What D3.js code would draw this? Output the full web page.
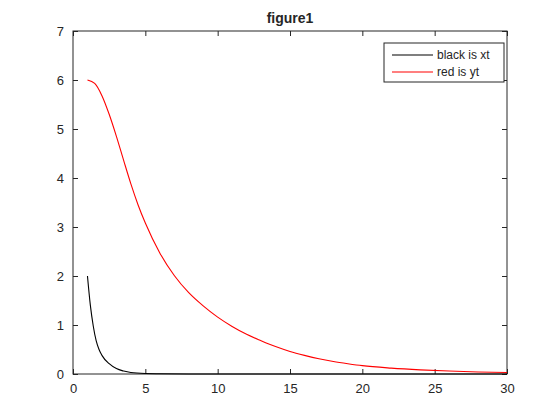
<!DOCTYPE html>
<html>
<head>
<meta charset="utf-8">
<script src="https://cdn.jsdelivr.net/npm/d3@7"></script>
<style>
  body { margin: 0; background: #fff; }
  text { font-family: "Liberation Sans", Arial, sans-serif; fill: #262626; }
</style>
</head>
<body>
<div id="chart"></div>
<script>
// values
var xt_x = [1, 1.2, 1.4, 1.6, 1.8, 2, 2.5, 3, 3.5, 4, 5, 6, 8, 10, 15, 20, 25, 30];
var xt_y = [2.0, 1.40, 0.98, 0.68, 0.50, 0.38, 0.21, 0.11, 0.06, 0.03, 0.01, 0.005, 0.001, 0, 0, 0, 0, 0];

var yt_x = [1, 1.5, 2, 2.5, 3, 3.5, 4, 4.5, 5, 6, 7, 8, 9, 10, 11, 12, 13, 14, 15, 16, 17, 18, 19, 20, 22, 24, 26, 28, 30];
var yt_y = [6.0, 5.93, 5.68, 5.30, 4.85, 4.36, 3.88, 3.45, 3.08, 2.47, 2.01, 1.66, 1.39, 1.16, 0.97, 0.81, 0.68, 0.56, 0.46, 0.38, 0.31, 0.255, 0.21, 0.17, 0.12, 0.085, 0.06, 0.042, 0.03];

var x_ticks = [0, 5, 10, 15, 20, 25, 30];
var y_ticks = [0, 1, 2, 3, 4, 5, 6, 7];
var legend_labels = ['black is xt', 'red is yt'];
var line_colors = ['#000000', '#ff0000'];

var pic_width = 560,
    pic_height = 420;

// axes box
var margin = { top: 31, right: 53, bottom: 46, left: 73 };
var width = pic_width - margin.left - margin.right,
    height = pic_height - margin.top - margin.bottom;

var axis_color = '#262626';

var svg = d3.select('#chart').append('svg')
    .attr('width', pic_width)
    .attr('height', pic_height);

var g = svg.append('g')
    .attr('transform', 'translate(' + margin.left + ',' + margin.top + ')');

var xScale = d3.scaleLinear().domain([0, 30]).range([0, width]);
var yScale = d3.scaleLinear().domain([0, 7]).range([height, 0]);

// axes, ticks pointing inward like matlab
function styleAxis(sel) {
    sel.select('.domain').remove();
    sel.selectAll('line').attr('stroke', axis_color);
    sel.selectAll('text').style('font-size', '13px').attr('fill', axis_color);
}

g.append('g')
    .attr('transform', 'translate(0,' + height + ')')
    .call(d3.axisBottom(xScale).tickValues(x_ticks).tickSize(-5).tickPadding(10).tickFormat(d3.format('d')))
    .call(styleAxis);

g.append('g')
    .call(d3.axisLeft(yScale).tickValues(y_ticks).tickSize(-5).tickPadding(9).tickFormat(d3.format('d')))
    .call(styleAxis);

g.append('g')
    .call(d3.axisTop(xScale).tickValues(x_ticks).tickSize(-5).tickFormat(''))
    .call(styleAxis);

g.append('g')
    .attr('transform', 'translate(' + width + ',0)')
    .call(d3.axisRight(yScale).tickValues(y_ticks).tickSize(-5).tickFormat(''))
    .call(styleAxis);

g.append('rect')
    .attr('width', width)
    .attr('height', height)
    .attr('fill', 'none')
    .attr('stroke', axis_color)
    .attr('stroke-width', 1);

var line = d3.line()
    .x(function(d) { return xScale(d[0]); })
    .y(function(d) { return yScale(d[1]); })
    .curve(d3.curveMonotoneX);

var series = [d3.zip(xt_x, xt_y), d3.zip(yt_x, yt_y)];

g.selectAll('path.series').data(series)
    .enter().append('path')
    .attr('class', 'series')
    .attr('d', line)
    .attr('fill', 'none')
    .attr('stroke', function(d, i) { return line_colors[i]; })
    .attr('stroke-width', 1.1);

// title
svg.append('text')
    .attr('x', margin.left + width / 2)
    .attr('y', 23)
    .attr('text-anchor', 'middle')
    .style('font-size', '14px')
    .style('font-weight', 'bold')
    .attr('fill', '#000')
    .text('figure1');

// legend
var legend = svg.append('g').attr('transform', 'translate(384,43)');
legend.append('rect')
    .attr('width', 120)
    .attr('height', 39)
    .attr('fill', '#fff')
    .attr('stroke', axis_color);

var items = legend.selectAll('g.item').data(legend_labels)
    .enter().append('g')
    .attr('class', 'item')
    .attr('transform', function(d, i) { return 'translate(0,' + (12 + i * 17) + ')'; });

items.append('line')
    .attr('x1', 8).attr('x2', 49)
    .attr('stroke', function(d, i) { return line_colors[i]; })
    .attr('stroke-width', 1.1);

items.append('text')
    .attr('x', 53)
    .attr('y', 4)
    .style('font-size', '12px')
    .attr('fill', '#000')
    .text(function(d) { return d; });
</script>
</body>
</html>
